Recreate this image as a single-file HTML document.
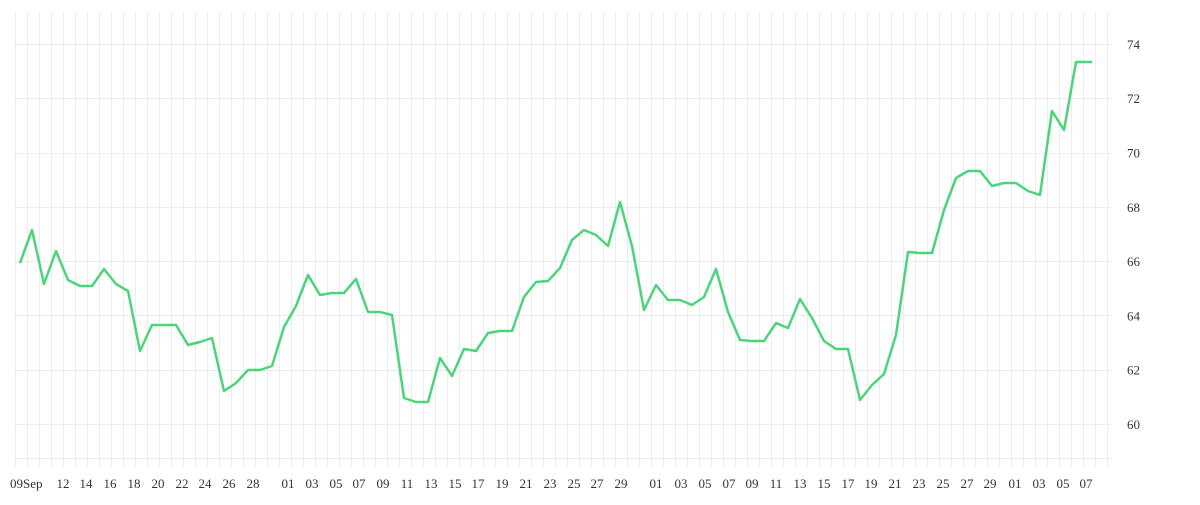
<!DOCTYPE html>
<html><head><meta charset="utf-8"><style>
html,body{margin:0;padding:0;background:#fff;}
svg text{font-family:"Liberation Serif",serif;font-size:13px;fill:#333;}
</style></head><body>
<svg width="1200" height="500" xmlns="http://www.w3.org/2000/svg">
<g id="grid" stroke="#ececec" stroke-width="1"></g>
<polyline fill="none" stroke="#4cd47a" stroke-width="2.5" stroke-linejoin="round" points="20,263 32,230 44,284 56,251 68,280 80,286 92,286 104,269 116,284 128,291 140,351 152,325 164,325 176,325 188,345 200,342 212,338 224,391 236,383 248,370 260,370 272,366 284,327 296,306 308,275 320,295 332,293 344,293 356,279 368,312 380,312 392,315 404,398 416,402 428,402 440,358 452,376 464,349 476,351 488,333 500,331 512,331 524,297 536,282 548,281 560,268 572,240 584,230 596,235 608,246 620,202 632,246 644,310 656,285 668,300 680,300 692,305 704,297 716,269 728,312 740,340 752,341 764,341 776,323 788,328 800,299 812,318 824,341 836,349 848,349 860,400 872,385 884,374 896,335 908,252 920,253 932,253 944,210 956,178 968,171 980,171 992,186 1004,183 1016,183 1028,191 1040,195 1052,111 1064,130 1076,62 1092,62"/>
<g id="yl"></g><g id="xl"></g>
</svg>
<script>
var ns="http://www.w3.org/2000/svg",g=document.getElementById('grid');
function ln(x1,y1,x2,y2){var l=document.createElementNS(ns,'line');l.setAttribute('x1',x1);l.setAttribute('y1',y1);l.setAttribute('x2',x2);l.setAttribute('y2',y2);g.appendChild(l);}
for(var x=15;x<=1111;x+=12)ln(x+.5,12,x+.5,467);
ln(14,458.5,1111,458.5);
var yl=document.getElementById('yl');
for(var v=60;v<=74;v+=2){var y=424-(v-60)*27.15;ln(14,Math.round(y)+.5,1111,Math.round(y)+.5);
var t=document.createElementNS(ns,'text');t.setAttribute('x',1127);t.setAttribute('y',y+5);t.textContent=v;yl.appendChild(t);}
var labs=[["09Sep",10],["12",63],["14",86],["16",110],["18",134],["20",158],["22",182],["24",205],["26",229],["28",253],["01",288],["03",312],["05",336],["07",359],["09",383],["11",407],["13",431],["15",455],["17",478],["19",502],["21",526],["23",550],["25",574],["27",597],["29",621],["01",656],["03",681],["05",705],["07",729],["09",752],["11",776],["13",800],["15",824],["17",848],["19",871],["21",895],["23",919],["25",943],["27",967],["29",990],["01",1015],["03",1039],["05",1063],["07",1086]];
var xl=document.getElementById('xl');
labs.forEach(function(a,i){var t=document.createElementNS(ns,'text');t.setAttribute('x',a[1]);t.setAttribute('y',488);if(i>0)t.setAttribute('text-anchor','middle');t.textContent=a[0];xl.appendChild(t);});
</script>
</body></html>
